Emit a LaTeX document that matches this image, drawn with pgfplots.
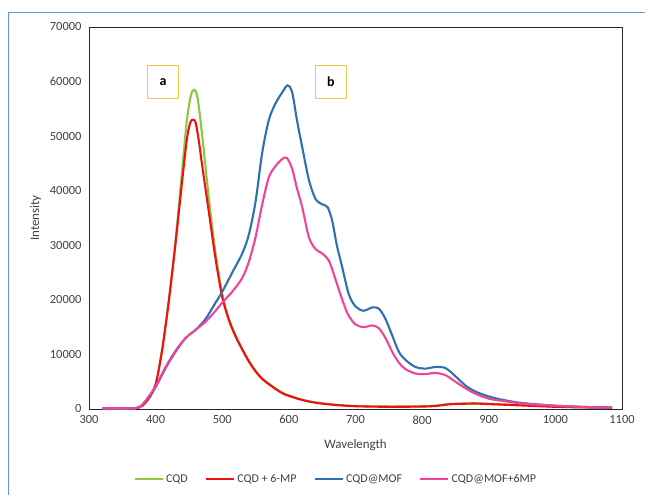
\documentclass[border=0pt]{standalone}
\usepackage{pgfplots}
\pgfplotsset{compat=1.18}
\usepackage{fontspec}
\setmainfont{Carlito}
\definecolor{cqd}{HTML}{8DC63F}
\definecolor{cqdmp}{HTML}{EE1111}
\definecolor{mof}{HTML}{3070B0}
\definecolor{mofmp}{HTML}{F0449A}
\definecolor{boxc}{HTML}{F2C64A}
\definecolor{frame}{HTML}{5B9BD5}
\definecolor{txt}{HTML}{404040}
\begin{document}
\begin{tikzpicture}[x=1bp,y=1bp]
\path[use as bounding box] (0,0) rectangle (645,495);
\draw[frame,line width=1bp] (8,-5) -- (8,482) -- (650,482);
\begin{axis}[
  at={(89bp,86bp)}, anchor=south west,
  scale only axis, width=533bp, height=382bp,
  xmin=300, xmax=1100, ymin=0, ymax=70000,
  xtick={300,400,...,1100}, ytick={0,10000,...,70000},
  major tick length=0pt,
  axis line style={black!85, line width=0.9bp},
  scaled y ticks=false,
  /pgf/number format/assume math mode=true,
  yticklabel={\pgfmathprintnumber[fixed,1000 sep={}]{\tick}},
  xticklabel={\pgfmathprintnumber[fixed,1000 sep={}]{\tick}},
  tick label style={font=\fontsize{12.5}{14}\selectfont, text=txt},
  xticklabel style={yshift=-3bp},
  yticklabel style={xshift=-4bp},
  xlabel={Wavelength}, ylabel={Intensity},
  label style={font=\fontsize{13}{15}\selectfont, text=txt},
  xlabel style={at={(axis description cs:0.5,-0.094)}, anchor=center},
  ylabel style={at={(axis description cs:-0.1,0.5)}, anchor=center},
  legend columns=4,
  legend style={draw=none, fill=none, at={(0.463,-0.183)}, anchor=center,
    font=\fontsize{12}{14}\selectfont, text=txt,
    /tikz/every even column/.append style={column sep=15bp}},
  legend image code/.code={\draw[#1,line width=2.6bp] (0bp,0bp) -- (28bp,0bp);},
  every axis plot/.append style={line width=2.1bp, smooth, no marks},
  clip=false,
]
\addplot[cqd] coordinates {
(320,100)(350,100)(370,150)(380,600)(390,2000)(400,4500)(410,11000)(420,20000)
(430,31000)(440,44000)(447,53000)(453,57500)(458,58500)(463,57000)(470,50000)
(480,38500)(490,28500)(500,21000)(510,16500)(520,13500)(530,11000)(540,8800)
(550,7000)(560,5600)(575,4200)(590,3000)(600,2500)(620,1700)(640,1200)(660,900)
(680,700)(700,550)(750,450)(800,500)(820,600)(840,900)(860,1000)(880,1050)
(900,950)(950,700)(1000,450)(1050,300)(1085,250)};
\addlegendentry{CQD}
\addplot[cqdmp] coordinates {
(320,100)(350,100)(370,150)(380,600)(390,2000)(400,4500)(410,11000)(420,20000)
(430,30500)(440,42000)(447,49500)(452,52500)(456,53000)(460,52500)(465,49000)
(470,44500)(480,36000)(490,27500)(500,20500)(510,16300)(520,13300)(530,10900)
(540,8700)(550,6900)(560,5500)(575,4100)(590,2900)(600,2400)(620,1650)(640,1150)
(660,850)(680,650)(700,500)(750,400)(800,450)(820,550)(840,850)(860,950)
(880,1000)(900,900)(950,650)(1000,400)(1050,280)(1085,230)};
\addlegendentry{CQD + 6-MP}
\addplot[mof] coordinates {
(320,0)(360,50)(375,300)(385,1500)(400,4000)(415,7500)(430,10500)(445,13000)
(460,14500)(475,16500)(490,19500)(500,21500)(515,25000)(530,28500)(540,32000)
(550,38000)(560,47000)(570,53000)(580,56000)(590,58000)(598,59300)(605,58000)
(612,53000)(620,48000)(630,42000)(640,38500)(650,37500)(658,37000)(665,34500)
(672,30000)(680,26000)(690,21000)(700,18800)(712,18000)(725,18600)(735,18400)
(745,16500)(755,13500)(765,10500)(775,9000)(790,7700)(805,7400)(820,7700)
(835,7500)(850,6000)(865,4300)(880,3200)(900,2300)(920,1700)(950,1100)
(1000,600)(1050,350)(1085,250)};
\addlegendentry{CQD@MOF}
\addplot[mofmp] coordinates {
(320,100)(360,100)(375,300)(385,1500)(400,4200)(415,7700)(430,10700)(445,13000)
(460,14500)(475,16000)(490,18000)(500,19500)(515,21500)(530,24000)(540,27000)
(550,31500)(560,37500)(570,42500)(580,44500)(590,45800)(597,46000)(605,44000)
(612,40500)(620,37000)(630,31500)(640,29300)(650,28500)(660,27200)(668,24500)
(676,21500)(688,17500)(700,15500)(712,15000)(725,15300)(735,14800)(745,13000)
(755,10500)(765,8500)(775,7300)(790,6500)(805,6400)(820,6600)(835,6200)
(850,5000)(865,3800)(880,2800)(900,1900)(920,1500)(950,1000)(1000,600)
(1050,350)(1085,250)};
\addlegendentry{CQD@MOF+6MP}
\node[draw=boxc, line width=1.2bp, minimum width=31bp, minimum height=33bp,
  font=\bfseries\fontsize{14}{14}\selectfont, fill=white, inner sep=0pt]
  at (axis cs:411,59900) {a};
\node[draw=boxc, line width=1.2bp, minimum width=31bp, minimum height=33bp,
  font=\bfseries\fontsize{14}{14}\selectfont, fill=white, inner sep=0pt]
  at (axis cs:663,59900) {b};
\end{axis}
\end{tikzpicture}
\end{document}
